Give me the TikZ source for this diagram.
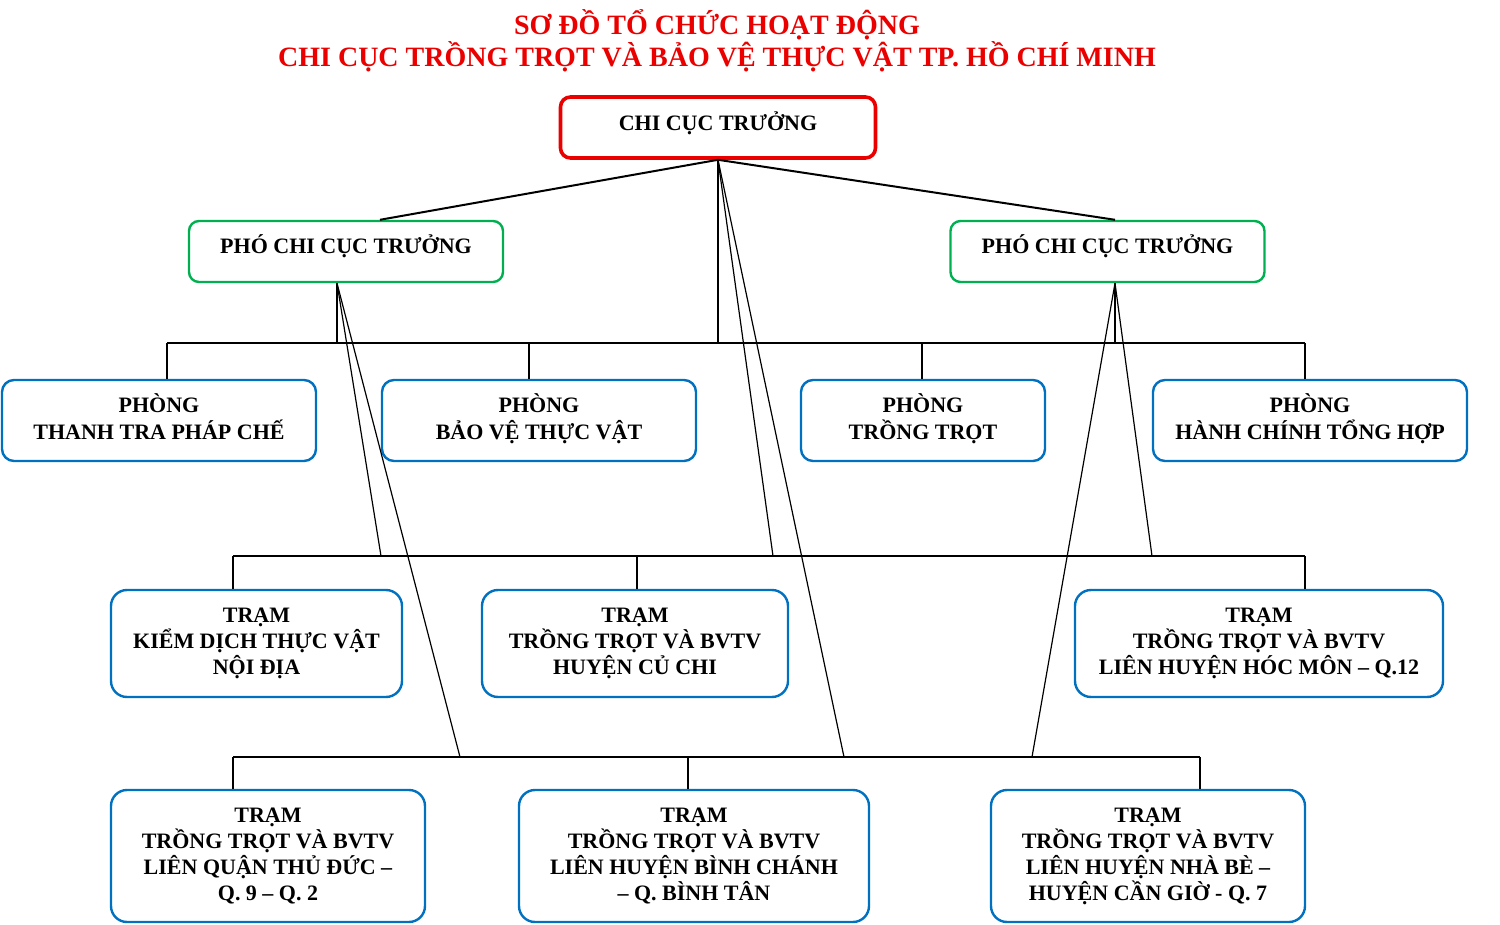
\documentclass[tikz,border=0pt]{standalone}
\usepackage{fontspec}
\setmainfont{Liberation Serif}
\usepackage{tikz}
\definecolor{bvred}{RGB}{235,0,0}
\definecolor{bvgreen}{RGB}{0,176,80}
\definecolor{bvblue}{RGB}{0,112,192}
\tikzstyle{truong} = [rectangle, rounded corners=5pt, minimum width=157.5pt, minimum height=30.5pt, text height=8pt, text depth=4.8pt, text centered, align=center, draw=bvred, line width=1.8pt, font=\fontsize{11}{13}\selectfont\bfseries]
\tikzstyle{pho} = [rectangle, rounded corners=5pt, minimum width=157pt, minimum height=30.5pt, text height=8pt, text depth=5.8pt, text centered, align=center, draw=bvgreen, line width=1.2pt, font=\fontsize{11}{13}\selectfont\bfseries]
\tikzstyle{phong} = [rectangle, rounded corners=6pt, minimum height=40.5pt, text depth=4pt, text centered, align=center, draw=bvblue, line width=1.2pt, font=\fontsize{11}{13.5}\selectfont\bfseries]
\tikzstyle{tram} = [rectangle, rounded corners=8pt, text centered, align=center, draw=bvblue, line width=1.2pt, font=\fontsize{11}{13}\selectfont\bfseries]
\tikzstyle{conn} = [black, line width=0.6pt]
\tikzstyle{connthick} = [black, line width=1pt]

\begin{document}
\begin{tikzpicture}[x=0.5pt, y=-0.5pt]
	\useasboundingbox (0,0) rectangle (1500,925);
	\node (title) [text=bvred, align=center, font=\fontsize{14}{16}\selectfont\bfseries] at (717,41) {SƠ ĐỒ TỔ CHỨC HOẠT ĐỘNG\\CHI CỤC TRỒNG TRỌT VÀ BẢO VỆ THỰC VẬT TP. HỒ CHÍ MINH};

	\node (cct) [truong] at (718,127.5) {CHI CỤC TRƯỞNG};
	\node (pho1) [pho] at (346,251.5) {PHÓ CHI CỤC TRƯỞNG};
	\node (pho2) [pho] at (1107.5,251.5) {PHÓ CHI CỤC TRƯỞNG};

	% phong
	\node (p1) [phong, minimum width=157pt] at (159,420.5) {PHÒNG\\THANH TRA PHÁP CHẾ};
	\node (p2) [phong, minimum width=157pt] at (539,420.5) {PHÒNG\\BẢO VỆ THỰC VẬT};
	\node (p3) [phong, minimum width=122pt] at (923,420.5) {PHÒNG\\TRỒNG TRỌT};
	\node (p4) [phong, minimum width=157pt] at (1310,420.5) {PHÒNG\\HÀNH CHÍNH TỔNG HỢP};

	% tram
	\node (t1) [tram, minimum width=145.5pt, minimum height=53.5pt] at (256.5,643.5) {TRẠM\\KIỂM DỊCH THỰC VẬT\\NỘI ĐỊA};
	\node (t2) [tram, minimum width=153pt, minimum height=53.5pt] at (635,643.5) {TRẠM\\TRỒNG TRỌT VÀ BVTV\\HUYỆN CỦ CHI};
	\node (t3) [tram, minimum width=184pt, minimum height=53.5pt] at (1259,643.5) {TRẠM\\TRỒNG TRỌT VÀ BVTV\\LIÊN HUYỆN HÓC MÔN – Q.12};
	\node (t4) [tram, minimum width=157pt, minimum height=66pt] at (268,856) {TRẠM\\TRỒNG TRỌT VÀ BVTV\\LIÊN QUẬN THỦ ĐỨC –\\Q. 9 – Q. 2};
	\node (t5) [tram, minimum width=175pt, minimum height=66pt] at (694,856) {TRẠM\\TRỒNG TRỌT VÀ BVTV\\LIÊN HUYỆN BÌNH CHÁNH\\– Q. BÌNH TÂN};
	\node (t6) [tram, minimum width=157pt, minimum height=66pt] at (1148,856) {TRẠM\\TRỒNG TRỌT VÀ BVTV\\LIÊN HUYỆN NHÀ BÈ –\\HUYỆN CẦN GIỜ - Q. 7};

	% bus points
	\coordinate (a1) at (167,343);
	\coordinate (a2) at (529,343);
	\coordinate (a3) at (922,343);
	\coordinate (a4) at (1305,343);
	\coordinate (b1) at (233,556);
	\coordinate (b2) at (637,556);
	\coordinate (b3) at (1305,556);
	\coordinate (c1) at (233,757);
	\coordinate (c2) at (688,757);
	\coordinate (c3) at (1200,757);

	\draw [connthick] (cct.south) -- ([xshift=17pt]pho1.north);
	\draw [connthick] (cct.south) -- ([xshift=3.75pt]pho2.north);

	\draw [conn] (a1) -- (a4);
	\draw [conn] (cct.south) -- (cct.south |- a1);
	\draw [conn] ([xshift=-4.5pt]pho1.south) -- ([xshift=-4.5pt]pho1.south |- a1);
	\draw [conn] ([xshift=3.75pt]pho2.south) -- ([xshift=3.75pt]pho2.south |- a1);
	\draw [conn] (a1) -- (a1 |- p1.north);
	\draw [conn] (a2) -- (a2 |- p2.north);
	\draw [conn] (a3) -- (a3 |- p3.north);
	\draw [conn] (a4) -- (a4 |- p4.north);

	\draw [conn] (b1) -- (b3);
	\draw [conn] (b1) -- (b1 |- t1.north);
	\draw [conn] (b2) -- (b2 |- t2.north);
	\draw [conn] (b3) -- (b3 |- t3.north);

	\draw [conn] (c1) -- (c3);
	\draw [conn] (c1) -- (c1 |- t4.north);
	\draw [conn] (c2) -- (c2 |- t5.north);
	\draw [conn] (c3) -- (c3 |- t6.north);

	% diagonals to tram
	\draw [conn] ([xshift=-4.5pt]pho1.south) -- (381,556);
	\draw [conn] ([xshift=-4.5pt]pho1.south) -- (460,757);
	\draw [conn] (cct.south) -- (773,556);
	\draw [conn] (cct.south) -- (844,757);
	\draw [conn] ([xshift=3.75pt]pho2.south) -- (1152,556);
	\draw [conn] ([xshift=3.75pt]pho2.south) -- (1032,757);
\end{tikzpicture}
\end{document}
